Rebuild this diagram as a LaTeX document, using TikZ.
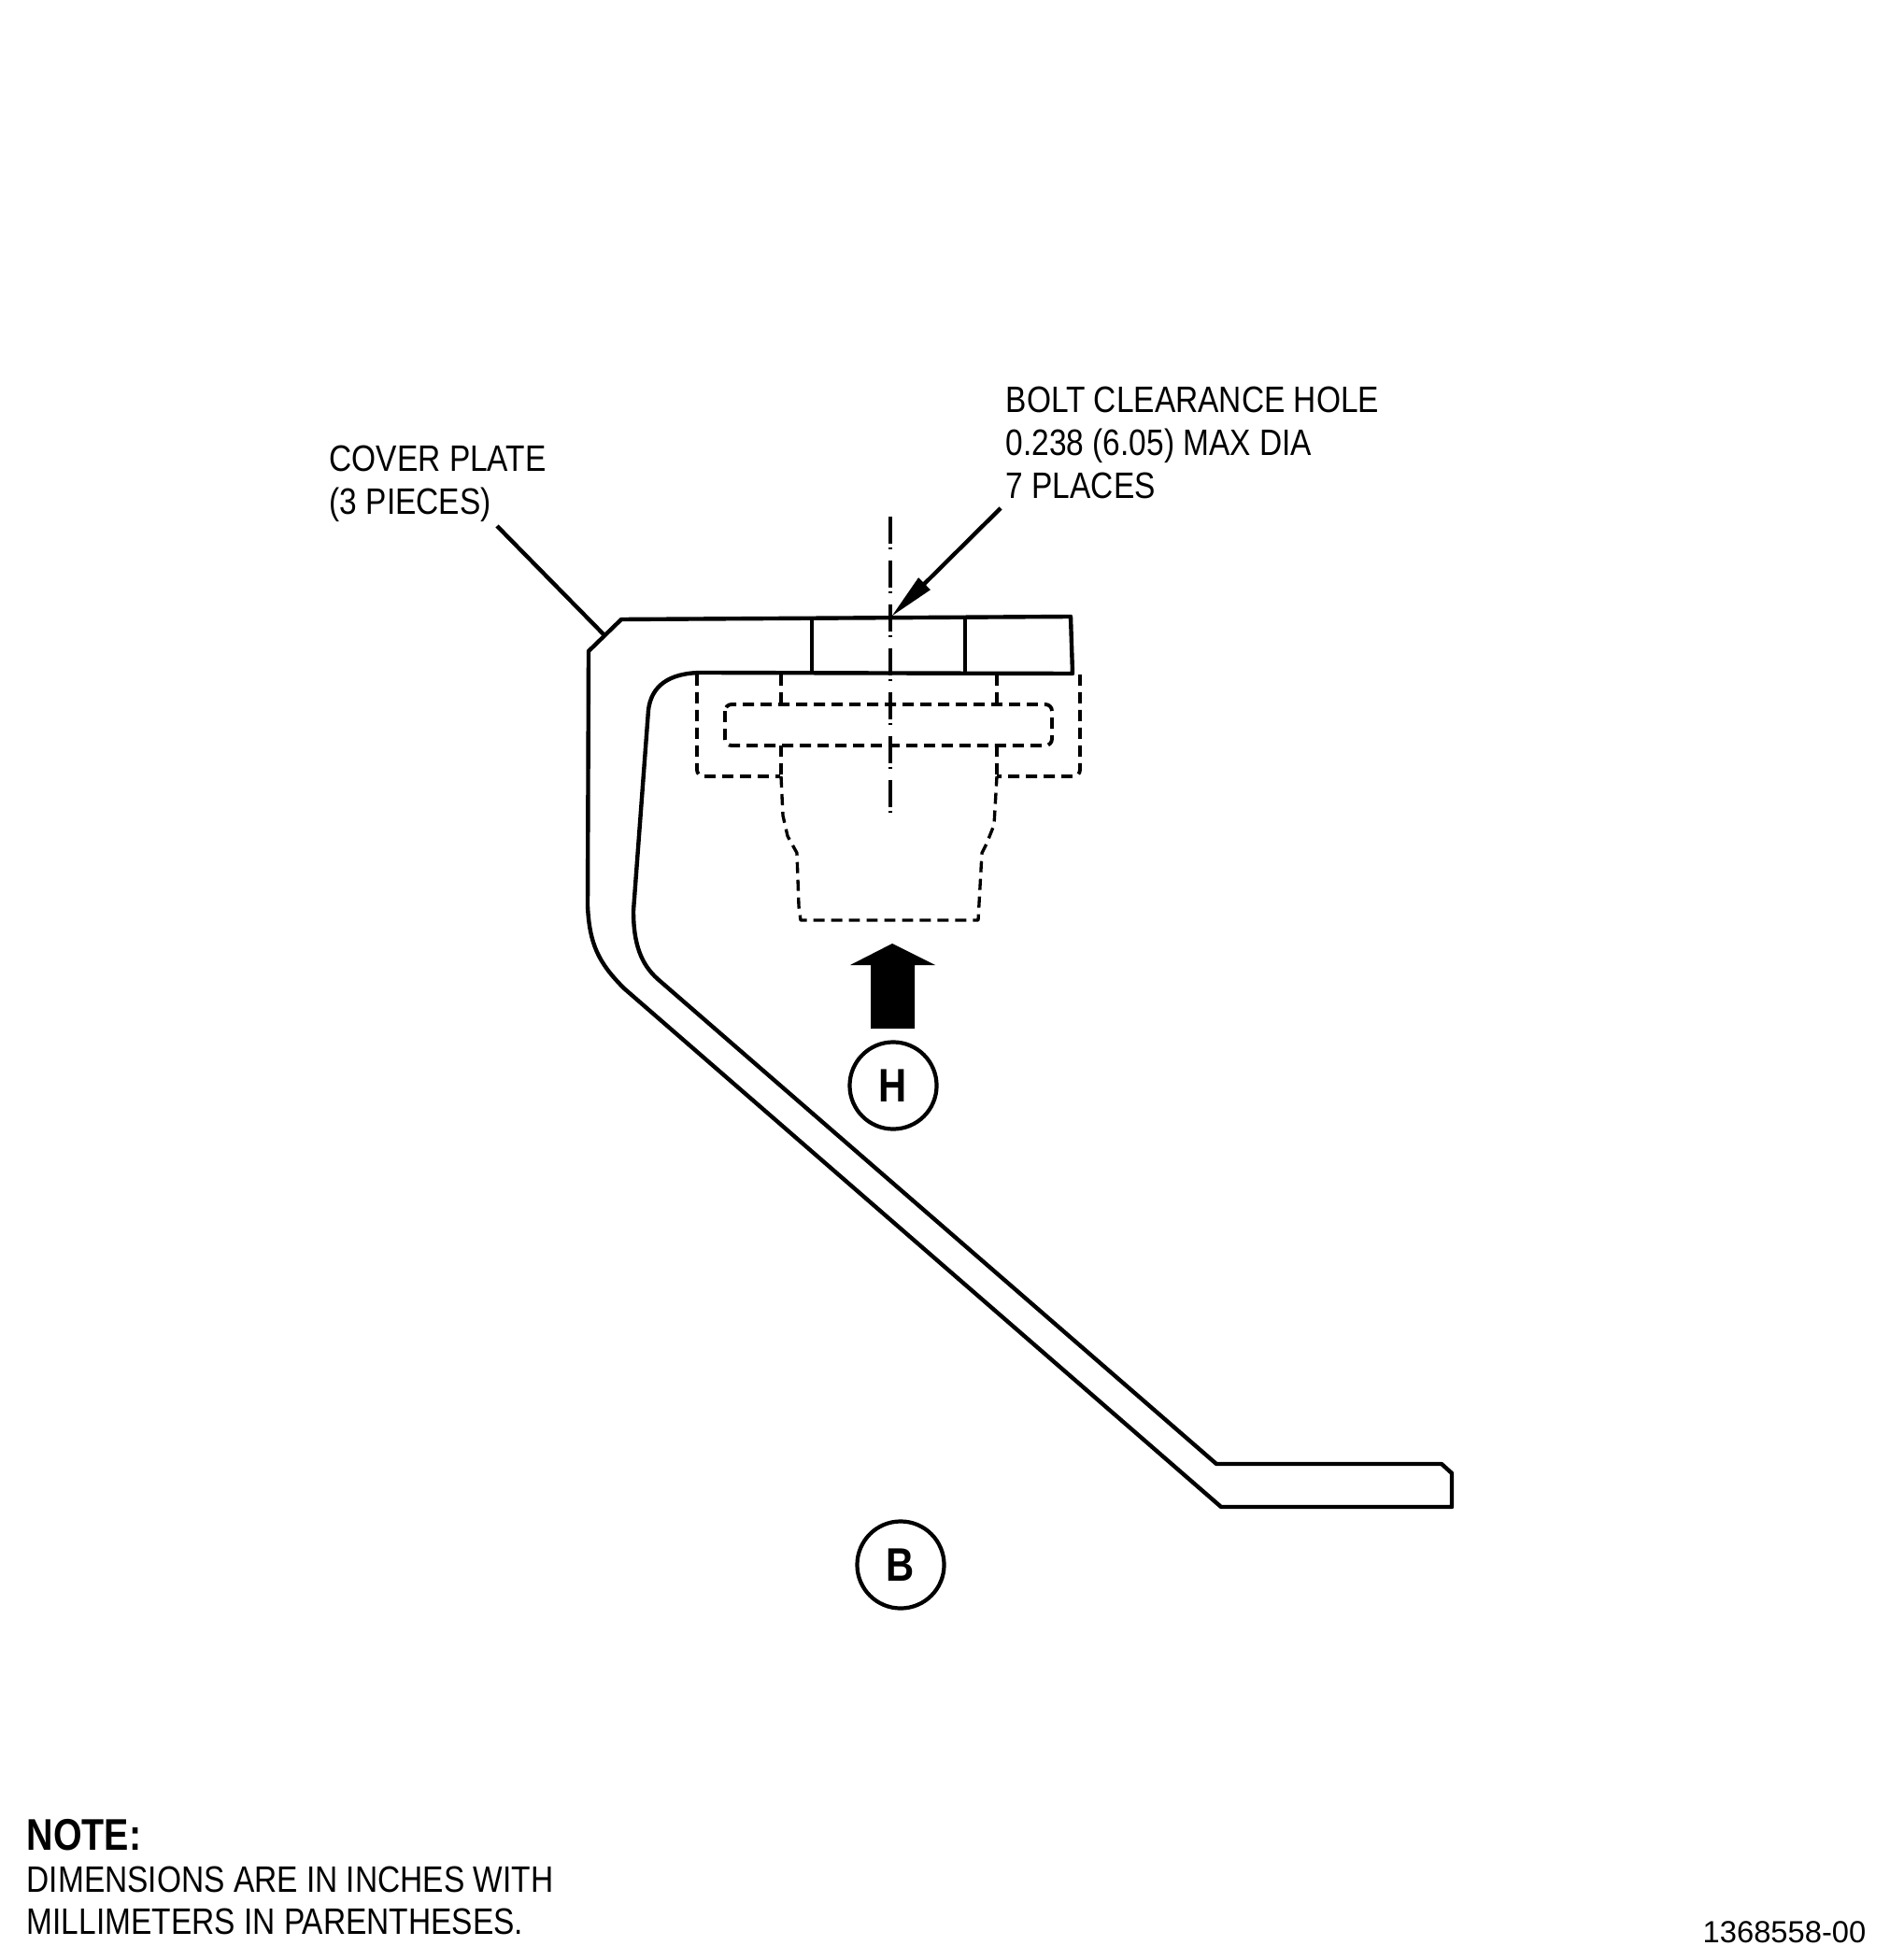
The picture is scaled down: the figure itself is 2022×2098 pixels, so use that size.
\documentclass[tikz,border=0pt]{standalone}
\usepackage{fontspec}
\setmainfont[FakeStretch=0.85,BoldFeatures={FakeStretch=0.83}]{Liberation Sans}
\newfontfamily\numfont{Liberation Sans}
\usetikzlibrary{arrows.meta}
\tikzset{
    outline/.style={line width=1.25pt, line join=round},
    hidden/.style={line width=1.1pt, dash pattern=on 3.4pt off 2pt, line join=round},
    hiddenthin/.style={hidden, line width=0.95pt},
    callout/.style={inner sep=0pt, anchor=base west, font=\fontsize{11.2}{13}\selectfont},
    refmark/.style={draw, circle, line width=1.2pt, minimum size=0.93cm, inner sep=0pt, font=\fontsize{14.3}{16}\selectfont\bfseries}
}
\begin{document}
\begin{tikzpicture}[x=0.01cm, y=-0.01cm]
    \useasboundingbox (0,0) rectangle (2022,2098);

    % Cover plate profile
    \draw[outline] (1146,660) -- (665,663) -- (630,697) -- (629,970)
        .. controls (631,1010) and (640,1030) .. (668,1058)
        -- (1307,1613) -- (1554,1613) -- (1554,1577) -- (1543,1567) -- (1302,1567)
        -- (704,1048)
        .. controls (686,1032) and (678,1010) .. (678,975)
        -- (694,760)
        .. controls (697,735) and (715,720) .. (752,720)
        -- (1148,721) -- cycle;

    % Hole edges
    \draw[outline] (869,662) -- (869,720);
    \draw[outline] (1033,660) -- (1033,720);

    % Hidden bolt head and washer
    \draw[hidden, rounded corners=2pt] (746,722) -- (746,831) -- (835,831);
    \draw[hidden, rounded corners=2pt] (1156,722) -- (1156,831) -- (1067,831);
    \draw[hidden, rounded corners=2pt] (776,754) rectangle (1126,798);
    \draw[hidden] (836,722) -- (836,754);
    \draw[hidden] (1067,722) -- (1067,754);
    \draw[hidden] (836,798) -- (836,831);
    \draw[hidden] (1067,798) -- (1067,831);

    % Hidden bolt body
    \draw[hiddenthin] (836,831) -- (838,873) -- (843,895) -- (853,913) -- (855,970)
        -- (857,985) -- (1047,985) -- (1051,913) -- (1056,903) -- (1064,883) -- (1067,831);

    % Center line
    \draw[line width=0.95pt, dash pattern=on 8.25pt off 1.1pt on 0.6pt off 3.4pt] (953,553) -- (953,870);

    % Leaders
    \coordinate (plateend) at (647,680);
    \coordinate (platestart) at (532,563);
    \coordinate (holetip) at (954,660);
    \coordinate (holestart) at (1071,544);
    \draw[line width=1.25pt] (platestart) -- (plateend);
    \draw[line width=1.25pt, -{Triangle[length=0.5cm, width=0.17cm]}] (holestart) -- (holetip);

    % View arrow
    \fill (955,1010) -- (1001,1033) -- (979,1033) -- (979,1101) -- (932,1101) -- (932,1033) -- (910,1033) -- cycle;

    % Reference marks
    \node[refmark] (markH) at (956,1162) {H};
    \node[refmark] (markB) at (964,1675) {B};

    % Labels
    \node[callout] (plate1) at (352,505) {COVER PLATE};
    \node[callout] (plate2) at (352,551) {(3 PIECES)};
    \node[callout] (hole1) at (1076,442) {BOLT CLEARANCE HOLE};
    \node[callout] (hole2) at (1076,488) {0.238 (6.05) MAX DIA};
    \node[callout] (hole3) at (1076,534) {7 PLACES};

    % Note
    \node[callout, font=\fontsize{13.5}{16}\selectfont\bfseries] (notehead) at (28,1980) {NOTE:};
    \node[callout] (note1) at (28,2025) {DIMENSIONS ARE IN INCHES WITH};
    \node[callout] (note2) at (28,2070) {MILLIMETERS IN PARENTHESES.};

    % Drawing number
    \node[inner sep=0pt, anchor=base east, font=\fontsize{9.3}{11}\selectfont\numfont] (drawno) at (1998,2079) {1368558-00};
\end{tikzpicture}
\end{document}
